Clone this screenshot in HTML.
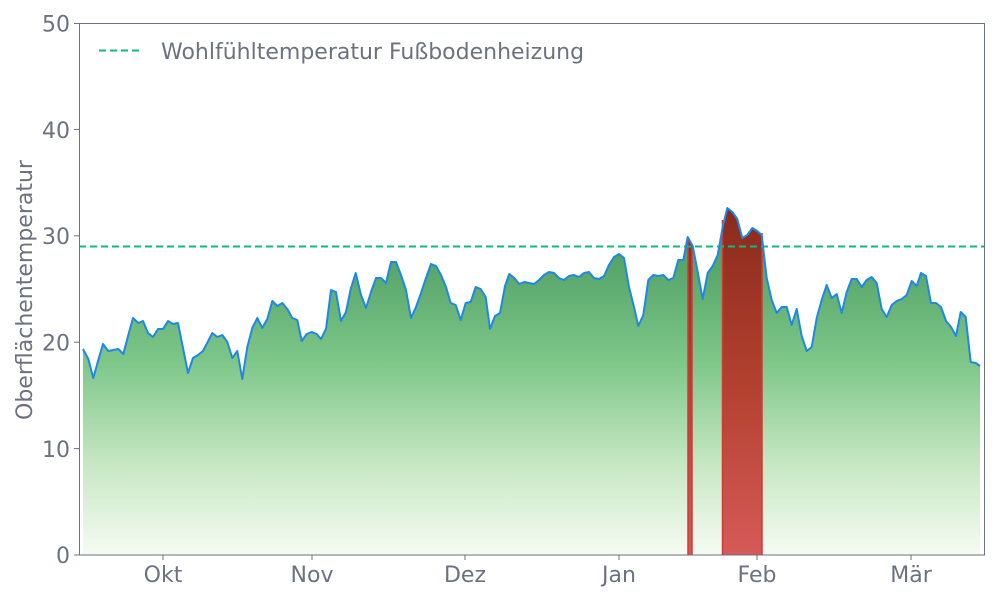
<!DOCTYPE html>
<html><head><meta charset="utf-8"><style>
html,body{margin:0;padding:0;background:#fff;}
svg{display:block;font-family:"DejaVu Sans","Liberation Sans",sans-serif;}
</style></head><body>
<svg width="1000" height="600" viewBox="0 0 1000 600" xmlns="http://www.w3.org/2000/svg">
<defs>
<linearGradient id="g" gradientUnits="userSpaceOnUse" x1="0" y1="200" x2="0" y2="555">
<stop offset="0" stop-color="#3f8f55"/>
<stop offset="0.45" stop-color="#7cc688"/>
<stop offset="0.75" stop-color="#c8e8c4"/>
<stop offset="1" stop-color="#f6fbf4"/>
</linearGradient>
<linearGradient id="r" gradientUnits="userSpaceOnUse" x1="0" y1="208" x2="0" y2="555">
<stop offset="0" stop-color="#8a2a1c"/>
<stop offset="0.5" stop-color="#b2402f"/>
<stop offset="1" stop-color="#d65a58"/>
</linearGradient>
<clipPath id="c1"><rect x="687.5" y="0" width="5" height="555"/><rect x="722.5" y="0" width="39.5" height="555"/></clipPath>
</defs>
<rect width="1000" height="600" fill="#fff"/>
<path fill="url(#g)" d="M83,349 L88.3,359 93.3,378 98.3,360 103,344 108.3,351 113.3,350 118.3,349 123.3,354 128.3,335 133,318 138.3,323 143,321 148,333 153,337 158,329 163,329 168,321 173,324 178,323 183,348 188,373 193,358 198,355 203,351 207.7,342 212.3,333 217.3,337 222.3,335 227.3,342 232.3,358 237.3,351 242.3,379 247.3,347 252.3,328 257.3,318 262.3,328 267.3,319 272.3,301 277.3,306 282.3,303 287.3,309 292.3,318 297.3,320 301.7,341 306.7,334 311.7,332 316.7,334 321,339 326,329 331,290 336,292 341,321 346,312 350.7,289 355.7,273 361,295 366,308 371,292 376,278 381,278 386,283 391,262 396,262 401,275 406,290 411,318 416,307 421,293 426,278 431,264 436,266 441,275 446,287 450.7,303 455.7,305 460.7,320 465.7,303 470.7,302 475.7,287 480.7,289 485.7,297 490,329 495,316 500,313 505,286 509.3,274 514.3,278 519.3,284 524.3,282 529,283 534,284 539,280 544,275 549,272 554,273 559,278 564,280 569,276 574,275 579,277 584,273 589,272 594,278 599,279 604,276 609,265 614,257 619,254 624,258 629,287 634,307 638.3,326 643.3,315 648.3,280 653.3,275 658.3,276 663.3,275 668.3,280 673.3,278 678.3,260 683.3,260 687.7,237 692.7,246 697.7,272 702.7,299 707.7,273 712.7,266 717.7,255 722.7,227 727.3,208 732.3,212 737.3,219 742.3,238 747.3,235 752.3,228 757.3,231 761.7,235 766.7,278 771.7,300 776.7,313 781.7,307 786.7,307 791.7,325 796.7,309 801.7,336 806.7,351 811.7,347 816.7,318 821.7,300 826.7,285 831.7,298 836.7,294 841.7,313 846.7,292 851.7,279 856.7,279 861.7,287 866.7,280 871.7,277 876.7,283 881.7,309 886.7,317 891.7,305 896.7,301 901.7,299 906.7,295 911.7,281 916.7,286 921,273 926,276 931,303 936,303 941,307 946,321 951,327 956,336 960.7,312 965.7,317 970.7,362 975.7,363 980,366 L980,555 L83,555 Z"/>
<g clip-path="url(#c1)">
<path fill="url(#r)" d="M678.3,260 L683.3,260 687.7,237 692.7,246 697.7,272 702.7,299 707.7,273 712.7,266 717.7,255 722.7,227 727.3,208 732.3,212 737.3,219 742.3,238 747.3,235 752.3,228 757.3,231 761.7,235 766.7,278 L766.7,555 L678.3,555 Z"/>
</g>
<line x1="688" y1="238" x2="688" y2="555" stroke="#d03a34" stroke-width="1.5"/>
<line x1="692" y1="244" x2="692" y2="555" stroke="#d03a34" stroke-width="1.5"/>
<line x1="722.5" y1="220" x2="722.5" y2="555" stroke="#d03a34" stroke-width="1.5"/>
<line x1="762" y1="233" x2="762" y2="555" stroke="#d03a34" stroke-width="1.5"/>
<line x1="79" y1="246.5" x2="985" y2="246.5" stroke="#10b981" stroke-width="2" stroke-dasharray="7,4"/>
<path fill="none" stroke="#1e88e5" stroke-width="2" stroke-linejoin="round" d="M83,349 L88.3,359 93.3,378 98.3,360 103,344 108.3,351 113.3,350 118.3,349 123.3,354 128.3,335 133,318 138.3,323 143,321 148,333 153,337 158,329 163,329 168,321 173,324 178,323 183,348 188,373 193,358 198,355 203,351 207.7,342 212.3,333 217.3,337 222.3,335 227.3,342 232.3,358 237.3,351 242.3,379 247.3,347 252.3,328 257.3,318 262.3,328 267.3,319 272.3,301 277.3,306 282.3,303 287.3,309 292.3,318 297.3,320 301.7,341 306.7,334 311.7,332 316.7,334 321,339 326,329 331,290 336,292 341,321 346,312 350.7,289 355.7,273 361,295 366,308 371,292 376,278 381,278 386,283 391,262 396,262 401,275 406,290 411,318 416,307 421,293 426,278 431,264 436,266 441,275 446,287 450.7,303 455.7,305 460.7,320 465.7,303 470.7,302 475.7,287 480.7,289 485.7,297 490,329 495,316 500,313 505,286 509.3,274 514.3,278 519.3,284 524.3,282 529,283 534,284 539,280 544,275 549,272 554,273 559,278 564,280 569,276 574,275 579,277 584,273 589,272 594,278 599,279 604,276 609,265 614,257 619,254 624,258 629,287 634,307 638.3,326 643.3,315 648.3,280 653.3,275 658.3,276 663.3,275 668.3,280 673.3,278 678.3,260 683.3,260 687.7,237 692.7,246 697.7,272 702.7,299 707.7,273 712.7,266 717.7,255 722.7,227 727.3,208 732.3,212 737.3,219 742.3,238 747.3,235 752.3,228 757.3,231 761.7,235 766.7,278 771.7,300 776.7,313 781.7,307 786.7,307 791.7,325 796.7,309 801.7,336 806.7,351 811.7,347 816.7,318 821.7,300 826.7,285 831.7,298 836.7,294 841.7,313 846.7,292 851.7,279 856.7,279 861.7,287 866.7,280 871.7,277 876.7,283 881.7,309 886.7,317 891.7,305 896.7,301 901.7,299 906.7,295 911.7,281 916.7,286 921,273 926,276 931,303 936,303 941,307 946,321 951,327 956,336 960.7,312 965.7,317 970.7,362 975.7,363 980,366"/>
<rect x="79.5" y="23.5" width="905" height="531.5" fill="none" stroke="#6b7280" stroke-width="1"/>
<g stroke="#6b7280" stroke-width="1">
<line x1="74" y1="555" x2="79" y2="555"/><line x1="74" y1="448.6" x2="79" y2="448.6"/><line x1="74" y1="342.2" x2="79" y2="342.2"/><line x1="74" y1="235.8" x2="79" y2="235.8"/><line x1="74" y1="129.4" x2="79" y2="129.4"/><line x1="74" y1="23.5" x2="79" y2="23.5"/>
<line x1="163" y1="555" x2="163" y2="560"/><line x1="312" y1="555" x2="312" y2="560"/><line x1="465" y1="555" x2="465" y2="560"/><line x1="619" y1="555" x2="619" y2="560"/><line x1="757" y1="555" x2="757" y2="560"/><line x1="911" y1="555" x2="911" y2="560"/>
</g>
<g fill="#6b7280" font-size="22" text-anchor="end">
<text x="70" y="563">0</text><text x="70" y="457">10</text><text x="70" y="350.5">20</text><text x="70" y="244">30</text><text x="70" y="138">40</text><text x="70" y="31.5">50</text>
</g>
<g fill="#6b7280" font-size="22" text-anchor="middle">
<text x="163" y="582">Okt</text><text x="312" y="582">Nov</text><text x="465" y="582">Dez</text><text x="619" y="582">Jan</text><text x="757" y="582">Feb</text><text x="911" y="582">Mär</text>
</g>
<text transform="translate(32,290) rotate(-90)" fill="#6b7280" font-size="22" text-anchor="middle">Oberflächentemperatur</text>
<line x1="99" y1="50.5" x2="141" y2="50.5" stroke="#10b981" stroke-width="2" stroke-dasharray="7,4"/>
<text x="161" y="59" fill="#6b7280" font-size="22">Wohlfühltemperatur Fußbodenheizung</text>
</svg>
</body></html>
